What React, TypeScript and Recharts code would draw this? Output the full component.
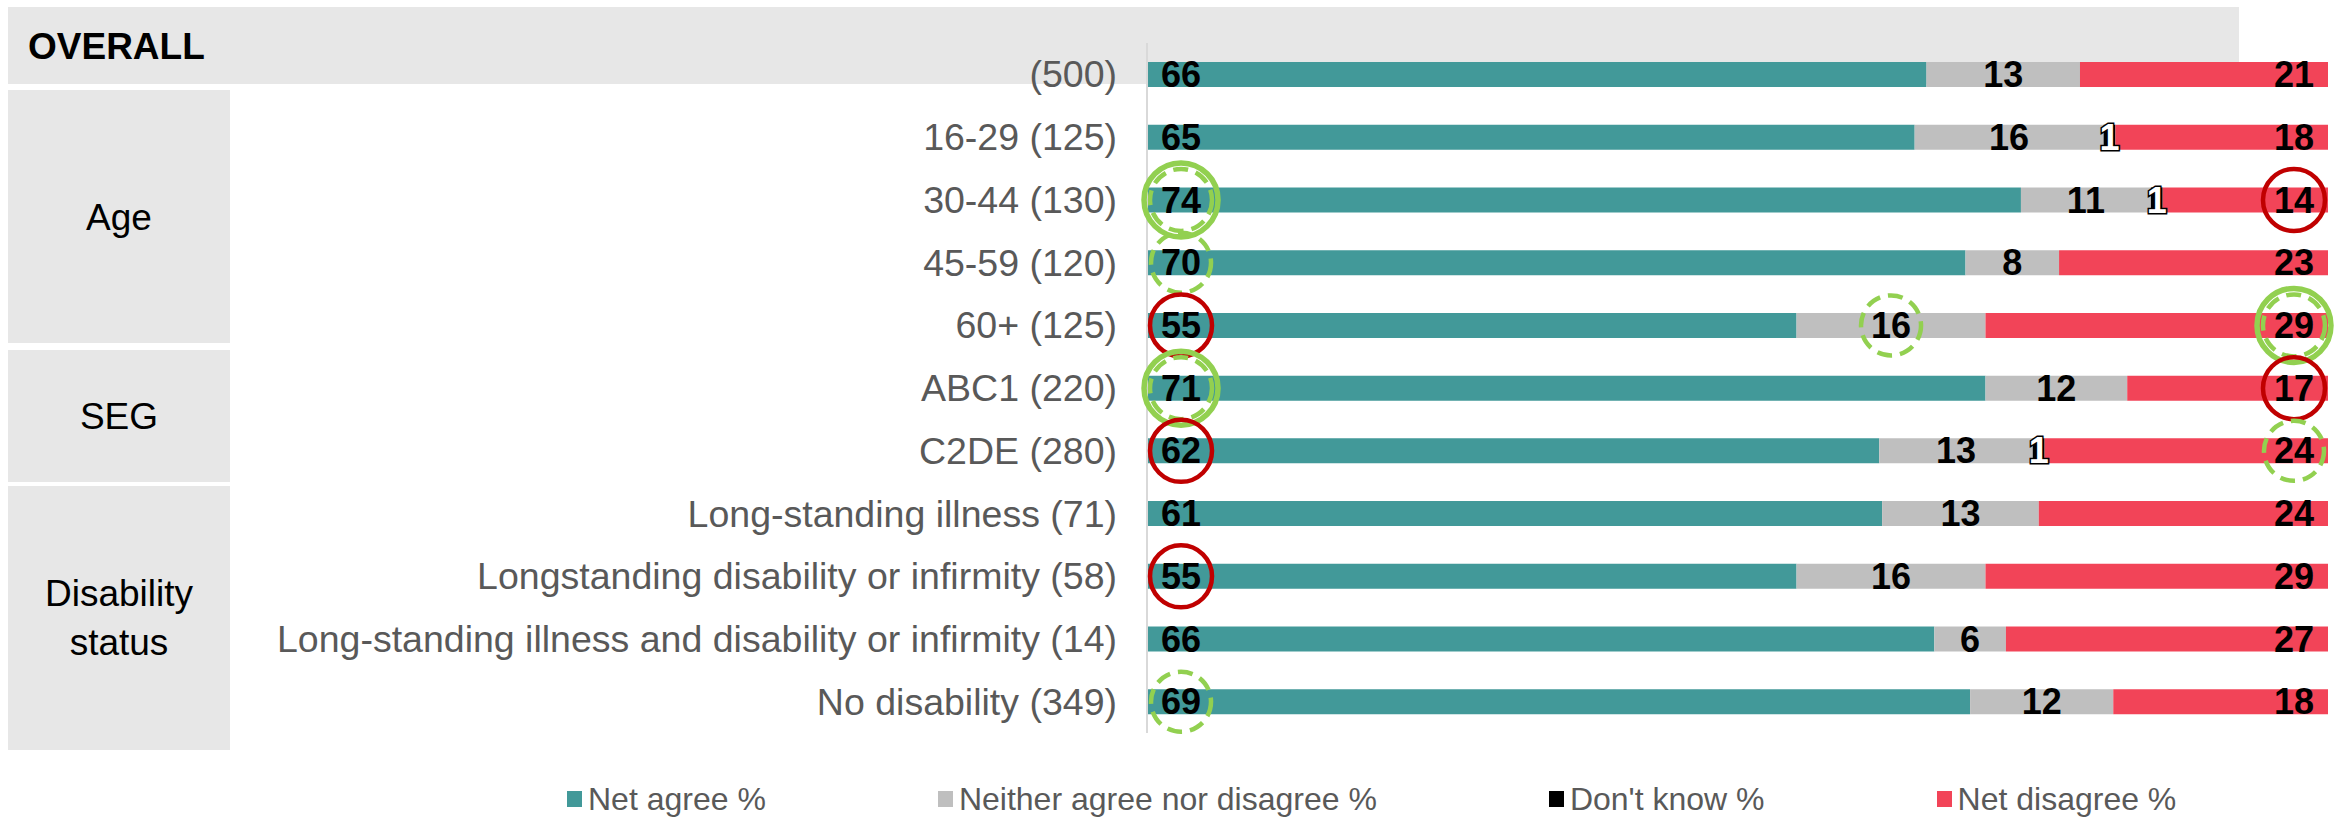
import React from 'react';
import { BarChart, Bar, XAxis, YAxis, LabelList, Legend } from 'recharts';

const FONT = '"Liberation Sans", Arial, Helvetica, sans-serif';

const categories = [
  '(500)',
  '16-29 (125)',
  '30-44 (130)',
  '45-59 (120)',
  '60+ (125)',
  'ABC1 (220)',
  'C2DE (280)',
  'Long-standing illness (71)',
  'Longstanding disability or infirmity (58)',
  'Long-standing illness and disability or infirmity (14)',
  'No disability (349)',
];
const netAgree = [66, 65, 74, 70, 55, 71, 62, 61, 55, 66, 69];
const neither = [13, 16, 11, 8, 16, 12, 13, 13, 16, 6, 12];
const dontKnow = [0, 1, 1, 0, 0, 0, 1, 0, 0, 0, 0];
const netDisagree = [21, 18, 14, 23, 29, 17, 24, 24, 29, 27, 18];

const seriesNames = ['Net agree %', 'Neither agree nor disagree %', "Don't know %", 'Net disagree %'];

type MarkerKind = 'red' | 'greenDash' | 'greenBoth';
// [row index, series key, marker style]
const markers: [number, string, MarkerKind][] = [
  [2, 'agree', 'greenBoth'],
  [2, 'disagree', 'red'],
  [3, 'agree', 'greenDash'],
  [4, 'agree', 'red'],
  [4, 'neither', 'greenDash'],
  [4, 'disagree', 'greenBoth'],
  [5, 'agree', 'greenBoth'],
  [5, 'disagree', 'red'],
  [6, 'agree', 'red'],
  [6, 'disagree', 'greenDash'],
  [8, 'agree', 'red'],
  [10, 'agree', 'greenDash'],
];

const groupLabels = [['Age'], ['SEG'], ['Disability', 'status']];

const TEAL = '#429999';
const GREY = '#BFBFBF';
const BLACK = '#000000';
const RED = '#F24458';
const GREEN = '#92D050';
const DARKRED = '#C00000';
const BOX = '#E7E7E7';

const data = categories.map((name, i) => ({
  name,
  agree: netAgree[i],
  neither: neither[i],
  dk: dontKnow[i],
  disagree: netDisagree[i],
}));

const LABEL_SIZE = 36;

function Marker({ cx, cy, kind }: { cx: number; cy: number; kind: MarkerKind }) {
  if (kind === 'red') {
    return <circle cx={cx} cy={cy} r={31} fill="none" stroke={DARKRED} strokeWidth={4.5} />;
  }
  if (kind === 'greenDash') {
    return <circle cx={cx} cy={cy} r={30} fill="none" stroke={GREEN} strokeWidth={4.5} strokeDasharray="15 8" />;
  }
  return (
    <g>
      <circle cx={cx} cy={cy} r={37} fill="none" stroke={GREEN} strokeWidth={5.5} />
      <circle cx={cx} cy={cy} r={31} fill="none" stroke={GREEN} strokeWidth={4.5} strokeDasharray="15 8" />
    </g>
  );
}

const makeLabel = (key: string, raw: number[], mode: 'base' | 'center' | 'end', color: string, outline?: boolean) => (props: any) => {
  const { x, y, width, height, index, value } = props;
  const hasZeros = raw.some((r) => !r);
  // series with zero entries: Recharts may skip empty bars, so read the label's own value
  const v = hasZeros ? (Array.isArray(value) ? null : value) : raw[index];
  if (!v) return null;
  const X = Number(x);
  const W = Number(width);
  const cy = Number(y) + Number(height) / 2;
  const textW = String(v).length * 0.556 * LABEL_SIZE;
  let tx = X + W / 2;
  let anchor: 'start' | 'middle' | 'end' = 'middle';
  let cx = tx;
  if (mode === 'base') {
    tx = X + 14;
    anchor = 'start';
    cx = tx + textW / 2;
  } else if (mode === 'end') {
    tx = X + W - 14;
    anchor = 'end';
    cx = tx - textW / 2;
  }
  const m = hasZeros ? undefined : markers.find((mk) => mk[0] === index && mk[1] === key);
  return (
    <g>
      <text
        x={tx}
        y={cy}
        dy="0.35em"
        textAnchor={anchor}
        fill={color}
        stroke={outline ? '#000' : undefined}
        strokeWidth={outline ? 3 : undefined}
        paintOrder={outline ? 'stroke' : undefined}
        fontSize={LABEL_SIZE}
        fontWeight="bold"
        fontFamily={FONT}
      >
        {v}
      </text>
      {m && <Marker cx={cx} cy={cy} kind={m[2]} />}
    </g>
  );
};

const CatTick = (props: any) => {
  const { x, y, payload } = props;
  return (
    <text x={x} y={y} dy="0.35em" textAnchor="end" fill="#595959" fontSize={37.5} fontFamily={FONT}>
      {payload.value}
    </text>
  );
};

const legendColors = [TEAL, GREY, BLACK, RED];

const LegendContent = () => (
  <div style={{ display: 'flex', alignItems: 'center', height: 30, whiteSpace: 'nowrap' }}>
    {seriesNames.map((name, i) => (
      <div key={name} style={{ display: 'flex', alignItems: 'center', marginRight: 172 }}>
        <span style={{ display: 'inline-block', width: 15, height: 16, background: legendColors[i], marginRight: 6 }} />
        <span style={{ fontSize: 32, color: '#595959', fontFamily: FONT, lineHeight: '30px' }}>{name}</span>
      </div>
    ))}
  </div>
);

export default function App() {
  return (
    <div style={{ position: 'absolute', left: 0, top: 0, width: 2349, height: 817, background: '#fff', overflow: 'hidden' }}>
      <svg width={2349} height={817} style={{ position: 'absolute', left: 0, top: 0 }}>
        <rect x={8} y={7} width={2231} height={77} fill={BOX} />
        <rect x={8} y={90} width={222} height={253} fill={BOX} />
        <rect x={8} y={350} width={222} height={132} fill={BOX} />
        <rect x={8} y={486} width={222} height={264} fill={BOX} />
        <text x={28} y={59} fontSize={37} fontWeight="bold" fontFamily={FONT} fill="#000">OVERALL</text>
        <text x={119} y={230} fontSize={37} fontFamily={FONT} fill="#000" textAnchor="middle">{groupLabels[0][0]}</text>
        <text x={119} y={429} fontSize={37} fontFamily={FONT} fill="#000" textAnchor="middle">{groupLabels[1][0]}</text>
        <text x={119} y={606} fontSize={37} fontFamily={FONT} fill="#000" textAnchor="middle">{groupLabels[2][0]}</text>
        <text x={119} y={655} fontSize={37} fontFamily={FONT} fill="#000" textAnchor="middle">{groupLabels[2][1]}</text>
      </svg>
      <div style={{ position: 'absolute', left: 0, top: 0 }}>
        <BarChart
          width={2349}
          height={817}
          data={data}
          layout="vertical"
          stackOffset="expand"
          margin={{ top: 43, right: 21, bottom: 84, left: 0 }}
        >
          <XAxis type="number" domain={[0, 1]} hide />
          <YAxis
            type="category"
            dataKey="name"
            width={1147}
            tickLine={false}
            tickSize={0}
            tickMargin={30}
            axisLine={{ stroke: '#D9D9D9', strokeWidth: 2 }}
            tick={<CatTick />}
            interval={0}
          />
          <Bar dataKey="agree" stackId="s" fill={TEAL} barSize={25} isAnimationActive={false}>
            <LabelList dataKey="agree" content={makeLabel('agree', netAgree, 'base', '#000')} />
          </Bar>
          <Bar dataKey="neither" stackId="s" fill={GREY} barSize={25} isAnimationActive={false}>
            <LabelList dataKey="neither" content={makeLabel('neither', neither, 'center', '#000')} />
          </Bar>
          <Bar dataKey="dk" stackId="s" fill={BLACK} barSize={25} isAnimationActive={false}>
            <LabelList dataKey="dk" content={makeLabel('dk', dontKnow, 'center', '#fff', true)} />
          </Bar>
          <Bar dataKey="disagree" stackId="s" fill={RED} barSize={25} isAnimationActive={false}>
            <LabelList dataKey="disagree" content={makeLabel('disagree', netDisagree, 'end', '#000')} />
          </Bar>
          <Legend
            layout="horizontal"
            verticalAlign="middle"
            align="center"
            wrapperStyle={{ left: 567, top: 784, width: 1780, height: 30 }}
            content={<LegendContent />}
          />
        </BarChart>
      </div>
    </div>
  );
}
